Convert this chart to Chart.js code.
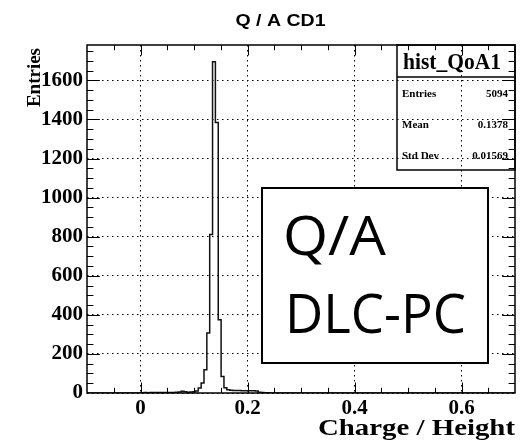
<!DOCTYPE html>
<html>
<head>
<meta charset="utf-8">
<title>Q / A CD1</title>
<script src="https://cdn.jsdelivr.net/npm/chart.js@4.4.1/dist/chart.umd.min.js"></script>
<style>
  html, body { margin: 0; padding: 0; background: #fff; }
  canvas { display: block; }
</style>
</head>
<body>
<canvas id="myChart" width="531" height="440"></canvas>
<script>
// histogram binning: 150 bins between -0.1 and 0.7
const histMin = -0.1;
const histMax = 0.7;
const nBins = 150;
const firstFilledBin = 19;
// bin contents starting at bin 19, everything after is empty
const binCounts = [
    1, 2, 1, 2, 3, 2, 2, 3, 2, 3, 3, 2, 4, 5, 9, 6, 4, 5,     // 19-36
    6, 10, 26, 51, 119, 307, 811, 1695, 1385, 375, 85, 27,    // 37-48
    16, 14, 13, 13, 13, 12, 12, 11, 12, 12, 10, 4, 2, 1, 1    // 49-63
];

const yMax = 1781;
const xTickValues = [0, 0.2, 0.4, 0.6];
const xTickLabels = ['0', '0.2', '0.4', '0.6'];
const yTickValues = [0, 200, 400, 600, 800, 1000, 1200, 1400, 1600];
const yTickLabels = ['0', '200', '400', '600', '800', '1000', '1200', '1400', '1600'];

const histTitle = 'Q / A CD1';
const xTitle = 'Charge / Height';
const yTitle = 'Entries';
const statsTitle = 'hist_QoA1';
const statsNames = ['Entries', 'Mean', 'Std Dev'];
const statsValues = ['5094', '0.1378', '0.01569'];
const noteLines = ['Q/A', 'DLC-PC'];

// outline points at the low edge of every bin (stepped line)
const binWidth = (histMax - histMin) / nBins;
const histPoints = [];
for (let i = 0; i < nBins; i++) {
    const j = i - firstFilledBin;
    const c = (j >= 0 && j < binCounts.length) ? binCounts[j] : 0;
    histPoints.push({ x: histMin + i * binWidth, y: c });
}
histPoints.push({ x: histMax, y: 0 });

// text squeezed/stretched horizontally to a given width
function fitText(ctx, text, x, y, font, align, width) {
    ctx.font = font;
    const w = ctx.measureText(text).width;
    const sx = width ? width / w : 1;
    ctx.save();
    ctx.translate(x, y);
    ctx.scale(sx, 1);
    ctx.textAlign = align;
    ctx.textBaseline = 'alphabetic';
    ctx.fillText(text, 0, 0);
    ctx.restore();
}

const rootStyle = {
    id: 'rootStyle',
    afterDraw(chart) {
        const { ctx, chartArea: a, scales: { x, y } } = chart;
        ctx.save();
        ctx.fillStyle = '#000';
        ctx.strokeStyle = '#000';

        // frame
        ctx.lineWidth = 1.5;
        ctx.strokeRect(a.left, a.top, a.right - a.left, a.bottom - a.top);

        // tick marks on all four sides, pointing inwards
        ctx.lineWidth = 1;
        const xLen = 0.03 * (a.bottom - a.top);
        const yLen = 0.03 * (a.right - a.left);
        ctx.beginPath();
        for (let i = -1; i <= 13; i++) {
            const px = Math.round(x.getPixelForValue(i * 0.05)) + 0.5;
            const len = (i % 4 === 0) ? xLen : xLen / 2;
            ctx.moveTo(px, a.bottom); ctx.lineTo(px, a.bottom - len);
            ctx.moveTo(px, a.top); ctx.lineTo(px, a.top + len);
        }
        for (let i = 1; i * 50 < yMax; i++) {
            const py = Math.round(y.getPixelForValue(i * 50)) + 0.5;
            const len = (i % 4 === 0) ? yLen : yLen / 2;
            ctx.moveTo(a.left, py); ctx.lineTo(a.left + len, py);
            ctx.moveTo(a.right, py); ctx.lineTo(a.right - len, py);
        }
        ctx.stroke();

        // titles
        fitText(ctx, histTitle, 280.5, 26, 'bold 16.5px "Liberation Sans"', 'center', 90);
        fitText(ctx, xTitle, a.right, 435, 'bold 23px "Liberation Serif"', 'right', 197);
        ctx.save();
        ctx.translate(39.5, 48);
        ctx.rotate(-Math.PI / 2);
        ctx.font = 'bold 19px "Liberation Serif"';
        ctx.textAlign = 'right';
        ctx.fillText(yTitle, 0, 0);
        ctx.restore();

        // statistics box (no fill, grid shows through)
        const sx0 = 397, sx1 = a.right, sy0 = a.top, sy1 = 170, sep = 77;
        ctx.lineWidth = 1.5;
        ctx.strokeRect(sx0, sy0, sx1 - sx0, sy1 - sy0);
        ctx.beginPath();
        ctx.moveTo(sx0, sep); ctx.lineTo(sx1, sep);
        ctx.stroke();
        fitText(ctx, statsTitle, 452, 68.5, 'bold 23px "Liberation Serif"', 'center', 98);
        const rowH = (sy1 - sep) / statsNames.length;
        statsNames.forEach((name, i) => {
            const by = sep + rowH * (i + 0.5) + 4;
            fitText(ctx, name, 402, by, 'bold 11px "Liberation Serif"', 'left');
            fitText(ctx, statsValues[i], 508, by, 'bold 11px "Liberation Serif"', 'right');
        });

        // note box
        ctx.fillStyle = '#fff';
        ctx.fillRect(262, 188, 226, 175);
        ctx.lineWidth = 2;
        ctx.strokeRect(262, 188, 226, 175);
        ctx.fillStyle = '#000';
        fitText(ctx, noteLines[0], 283, 255, '54px "Open Sans"', 'left', 103);
        fitText(ctx, noteLines[1], 285, 333, '54px "Open Sans"', 'left', 181);

        ctx.restore();
    }
};

const ctx = document.getElementById('myChart').getContext('2d');

const data = {
    datasets: [
        {
            label: statsTitle,
            data: histPoints,
            stepped: true,
            borderColor: '#111',
            borderWidth: 1.5,
            pointRadius: 0,
            fill: false,
            tension: 0
        }
    ]
};

const tickFont = { family: '"Liberation Serif"', size: 21, weight: 'bold' };

const config = {
    type: 'line',
    data: data,
    options: {
        responsive: false,
        animation: false,
        devicePixelRatio: 1,
        layout: { padding: { left: 0, right: 16, top: 45, bottom: 0 } },
        scales: {
            x: {
                type: 'linear',
                min: histMin,
                max: histMax,
                afterBuildTicks: (scale) => {
                    scale.ticks = xTickValues.map(v => ({ value: v }));
                },
                afterFit: (scale) => { scale.height = 47; },
                ticks: {
                    autoSkip: false,
                    maxRotation: 0,
                    padding: 3,
                    color: '#000',
                    font: tickFont,
                    callback: (value) => xTickLabels[xTickValues.indexOf(value)]
                },
                grid: {
                    color: '#000',
                    lineWidth: 1,
                    drawTicks: false
                },
                border: { display: false, dash: [1.5, 3.5] }
            },
            y: {
                min: 0,
                max: yMax,
                afterBuildTicks: (scale) => {
                    scale.ticks = yTickValues.map(v => ({ value: v }));
                },
                afterFit: (scale) => { scale.width = 87; },
                ticks: {
                    autoSkip: false,
                    padding: 4,
                    color: '#000',
                    font: tickFont,
                    callback: (value) => yTickLabels[yTickValues.indexOf(value)]
                },
                grid: {
                    color: '#000',
                    lineWidth: 1,
                    drawTicks: false
                },
                border: { display: false, dash: [1.5, 3.5] }
            }
        },
        plugins: {
            legend: { display: false },
            tooltip: { enabled: false }
        }
    },
    plugins: [rootStyle]
};

const myChart = new Chart(ctx, config);
</script>
</body>
</html>
